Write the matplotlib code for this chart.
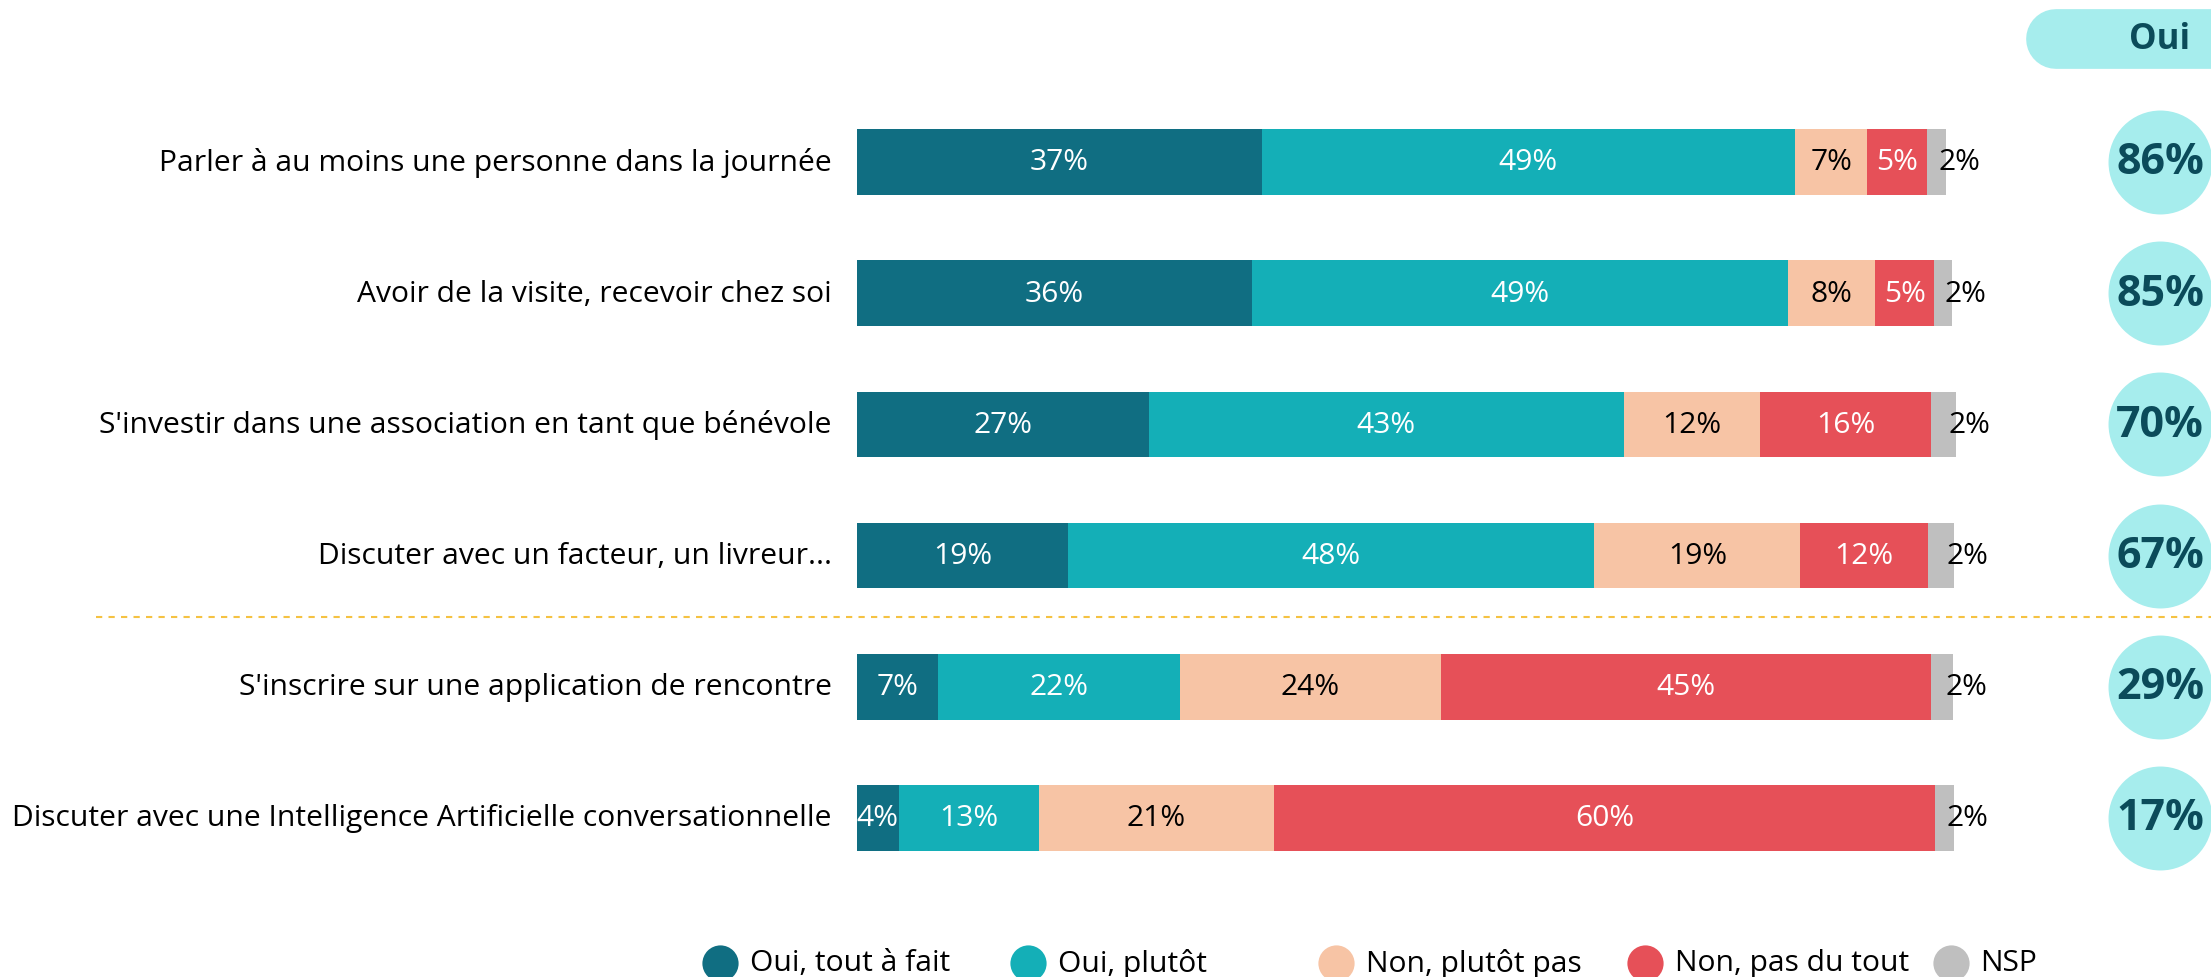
import matplotlib.pyplot as plt
import numpy as np

# survey items (top to bottom)
items = [
    "Parler à au moins une personne dans la journée",
    "Avoir de la visite, recevoir chez soi",
    "S'investir dans une association en tant que bénévole",
    "Discuter avec un facteur, un livreur...",
    "S'inscrire sur une application de rencontre",
    "Discuter avec une Intelligence Artificielle conversationnelle",
]
# shares as measured from the bars (labels show them rounded)
oui_tout_a_fait = [36.9, 36.0, 26.6, 19.2, 7.4, 3.8]
oui_plutot = [48.6, 48.9, 43.3, 48.0, 22.0, 12.8]
non_plutot_pas = [6.6, 7.9, 12.4, 18.8, 23.8, 21.4]
non_pas_du_tout = [5.4, 5.4, 15.6, 11.6, 44.7, 60.3]
nsp = [1.8, 1.6, 2.3, 2.4, 2.0, 1.7]
oui_total = [86, 85, 70, 67, 29, 17]

series_names = ["Oui, tout à fait", "Oui, plutôt", "Non, plutôt pas", "Non, pas du tout", "NSP"]
colors = ["#106E82", "#14AFB7", "#F7C4A5", "#E65058", "#BFBFBF"]
text_colors = ["white", "white", "black", "white", "black"]

plt.rcParams['font.family'] = ['Open Sans', 'DejaVu Sans']
FS = 21.6

fig = plt.figure(figsize=(22.11, 9.78), dpi=100)
ax = fig.add_axes([0, 0, 1, 1])

# pixel -> data mapping: 0% at x=857px, 100% at 1954px; rows every 131px starting at 163px
px_per_unit = 10.97
ax.set_xlim(-857 / px_per_unit, (2211 - 857) / px_per_unit)
ax.set_ylim((978 - 163) / 131.2, -163 / 131.2)
ax.axis('off')

y = np.arange(len(items))
data = [oui_tout_a_fait, oui_plutot, non_plutot_pas, non_pas_du_tout, nsp]
left = np.zeros(len(items))
for k, vals in enumerate(data):
    vals = np.array(vals, dtype=float)
    ax.barh(y, vals, left=left, height=0.5, color=colors[k])
    for i, v in enumerate(vals):
        if k == 4:
            ax.text(left[i] + v - 0.7, y[i], f"{v:.0f}%", ha='left', va='center',
                    fontsize=FS, color='black')
        else:
            ax.text(left[i] + v / 2, y[i], f"{v:.0f}%", ha='center', va='center',
                    fontsize=FS, color=text_colors[k])
    left += vals

# row labels
for i, name in enumerate(items):
    ax.text(-2.3, y[i], name, ha='right', va='center', fontsize=FS, color='black')

# separator between the two groups
ax.plot([-69.4, 130], [3.47, 3.47], color='#F5C242', linestyle=(0, (3, 3)), linewidth=1.5)

# "Oui" column
circle_x = (2160 - 857) / px_per_unit
ax.scatter([circle_x] * len(items), y, s=5600, color='#A6EDED', zorder=2, linewidths=0)
for i, t in enumerate(oui_total):
    ax.text(circle_x, y[i], f"{t}%", ha='center', va='center', fontsize=31,
            fontweight='bold', color='#0B4B5A', zorder=3)

head_y = (40 - 163) / 131.2
ax.plot([(2056 - 857) / px_per_unit, 140], [head_y, head_y], color='#A6EDED',
        linewidth=43, solid_capstyle='round', zorder=2)
ax.text(circle_x, head_y, "Oui", ha='center', va='center', fontsize=25,
        fontweight='bold', color='#0B4B5A', zorder=3)

# legend
leg_y = (964 - 163) / 131.2
leg_x = [720, 1028, 1336, 1645, 1951]
for name, c, xp in zip(series_names, colors, leg_x):
    xd = (xp - 857) / px_per_unit
    ax.scatter([xd], [leg_y], s=680, color=c, linewidths=0)
    ax.text(xd + 2.7, leg_y, name, ha='left', va='center', fontsize=FS, color='black')

fig.savefig("out.png", dpi=100)
